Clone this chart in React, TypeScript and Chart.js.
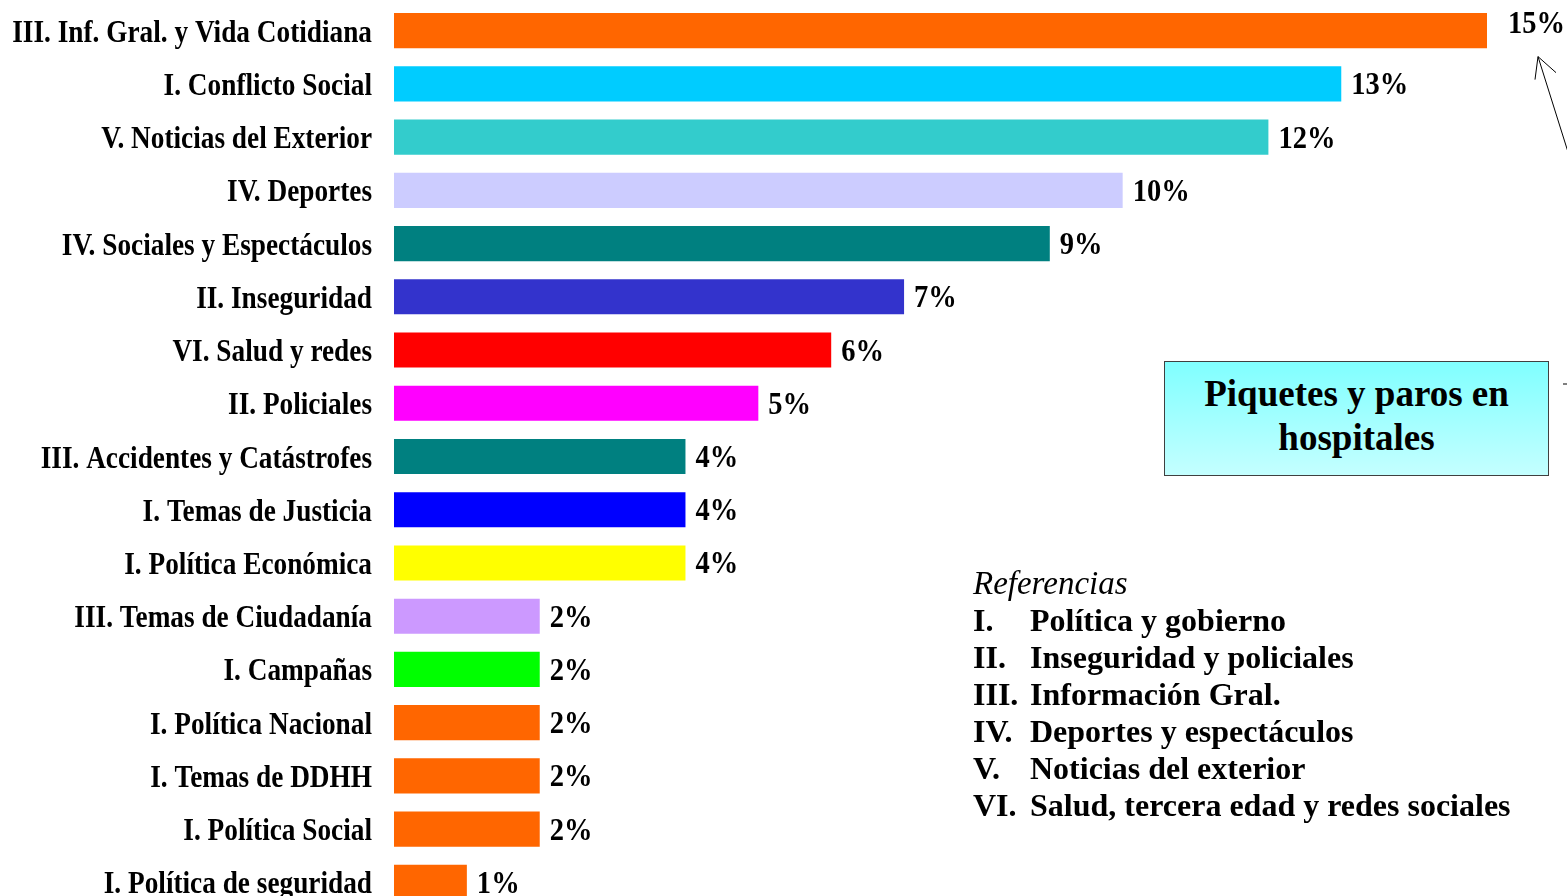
import React, { useEffect, useRef } from "react";
import { Chart, registerables } from "chart.js";

Chart.register(...registerables);

const categories = [
  "III. Inf. Gral. y Vida Cotidiana",
  "I. Conflicto Social",
  "V. Noticias del Exterior",
  "IV. Deportes",
  "IV. Sociales y Espectáculos",
  "II. Inseguridad",
  "VI. Salud y redes",
  "II. Policiales",
  "III. Accidentes y Catástrofes",
  "I. Temas de Justicia",
  "I. Política Económica",
  "III. Temas de Ciudadanía",
  "I. Campañas",
  "I. Política Nacional",
  "I. Temas de DDHH",
  "I. Política Social",
  "I. Política de seguridad",
];

const values = [15, 13, 12, 10, 9, 7, 6, 5, 4, 4, 4, 2, 2, 2, 2, 2, 1];

const valueLabels = ["15%", "13%", "12%", "10%", "9%", "7%", "6%", "5%", "4%", "4%", "4%", "2%", "2%", "2%", "2%", "2%", "1%"];

const barColors = [
  "#FF6600", "#00CCFF", "#33CCCC", "#CCCCFF", "#008080", "#3333CC", "#FF0000", "#FF00FF",
  "#008080", "#0000FF", "#FFFF00", "#CC99FF", "#00FF00", "#FF6600", "#FF6600", "#FF6600", "#FF6600",
];

const refNumerals = ["I.", "II.", "III.", "IV.", "V.", "VI."];
const refTexts = [
  "Política y gobierno",
  "Inseguridad y policiales",
  "Información Gral.",
  "Deportes y espectáculos",
  "Noticias del exterior",
  "Salud, tercera edad y redes sociales",
];

const FONT = "'Liberation Serif', 'Times New Roman', serif";

const labelsPlugin = {
  id: "customLabels",
  afterDatasetsDraw(chart: any) {
    const ctx = chart.ctx;
    const meta = chart.getDatasetMeta(0);
    const left = chart.chartArea.left;
    ctx.save();
    ctx.fillStyle = "#000";
    ctx.textBaseline = "alphabetic";

    // category labels
    ctx.font = `bold 31px ${FONT}`;
    ctx.textAlign = "right";
    meta.data.forEach((bar: any, i: number) => {
      ctx.save();
      ctx.translate(left - 22, bar.y + 11);
      ctx.scale(0.88, 1);
      ctx.fillText(chart.data.labels[i], 0, 0);
      ctx.restore();
    });

    // value labels
    ctx.font = `bold 31px ${FONT}`;
    ctx.textAlign = "left";
    meta.data.forEach((bar: any, i: number) => {
      const first = i === 0;
      ctx.save();
      ctx.translate(bar.x + (first ? 21 : 10), bar.y + (first ? 2 : 10.5));
      ctx.scale(0.92, 1);
      ctx.fillText(valueLabels[i], 0, 0);
      ctx.restore();
    });

    // arrow pointing to first label
    const b0 = meta.data[0];
    const tipX = b0.x + 51;
    const tipY = b0.y + 26;
    ctx.strokeStyle = "#000";
    ctx.lineWidth = 1;
    ctx.beginPath();
    ctx.moveTo(1568, 152);
    ctx.lineTo(tipX, tipY);
    ctx.moveTo(tipX, tipY);
    ctx.lineTo(tipX - 3, tipY + 23);
    ctx.moveTo(tipX, tipY);
    ctx.lineTo(tipX + 18, tipY + 16);
    ctx.moveTo(1563, 384);
    ctx.lineTo(1568, 384);
    ctx.stroke();
    ctx.restore();
  },
};

export default function App() {
  const canvasRef = useRef<HTMLCanvasElement | null>(null);

  useEffect(() => {
    document.body.style.overflow = "hidden";
    const chart = new Chart(canvasRef.current as HTMLCanvasElement, {
      type: "bar",
      data: {
        labels: categories,
        datasets: [
          {
            data: values,
            backgroundColor: barColors,
            borderWidth: 0,
            barPercentage: 0.66,
            categoryPercentage: 1,
          },
        ],
      },
      options: {
        indexAxis: "y",
        animation: false,
        responsive: false,
        maintainAspectRatio: false,
        layout: { padding: { top: 4, right: 80, bottom: 0, left: 0 } },
        plugins: {
          legend: { display: false },
          tooltip: { enabled: false },
          title: { display: false },
        },
        scales: {
          x: {
            display: false,
            min: 0,
            max: 15,
          },
          y: {
            grid: { display: false, drawTicks: false },
            border: { display: false },
            ticks: { display: false, padding: 0 },
            afterFit(scale: any) {
              scale.width = 394;
              scale.paddingTop = 0;
              scale.paddingBottom = 0;
            },
          },
        },
      },
      plugins: [labelsPlugin],
    } as any);
    return () => chart.destroy();
  }, []);

  return (
    <div style={{ position: "fixed", left: 0, top: 0, width: 1567, height: 896, overflow: "hidden", background: "#fff" }}>
      <canvas ref={canvasRef} width={1567} height={909} style={{ position: "absolute", left: 0, top: 0, width: 1567, height: 909 }} />
      <div
        style={{
          position: "absolute",
          left: 1164,
          top: 361,
          width: 383,
          height: 113,
          boxSizing: "content-box",
          border: "1px solid #404040",
          background: "linear-gradient(#80ffff, #c4ffff)",
          display: "flex",
          alignItems: "center",
          justifyContent: "center",
          textAlign: "center",
          fontFamily: FONT,
          fontWeight: "bold",
          fontSize: 37,
          lineHeight: "44px",
          color: "#000",
        }}
      >
        <div style={{ marginTop: -6, whiteSpace: "nowrap" }}>
          Piquetes y paros en
          <br />
          hospitales
        </div>
      </div>
      <div
        style={{
          position: "absolute",
          left: 973,
          top: 565,
          fontFamily: FONT,
          color: "#000",
          whiteSpace: "nowrap",
        }}
      >
        <div style={{ fontStyle: "italic", fontSize: 33, lineHeight: "37px" }}>Referencias</div>
        {refTexts.map((t, i) => (
          <div key={i} style={{ fontWeight: "bold", fontSize: 32, lineHeight: "37px", display: "flex" }}>
            <span style={{ width: 57, display: "inline-block" }}>{refNumerals[i]}</span>
            <span>{t}</span>
          </div>
        ))}
      </div>
    </div>
  );
}
